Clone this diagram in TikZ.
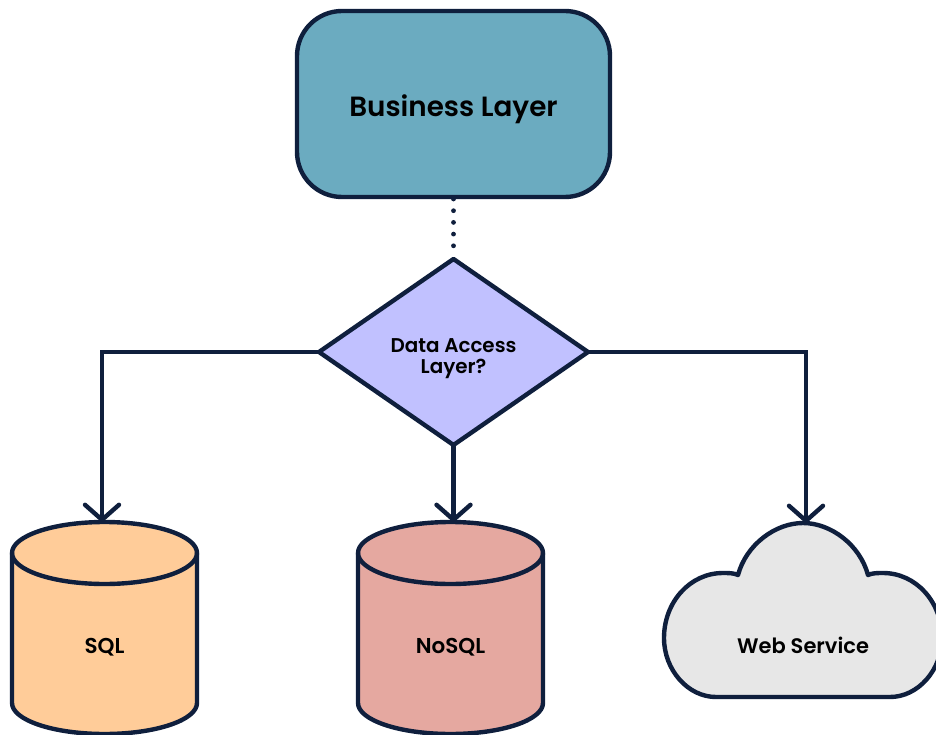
\documentclass[tikz,border=0pt]{standalone}
\usepackage{fontspec}
\newfontfamily\semif{Poppins SemiBold}
\usetikzlibrary{shapes.geometric,arrows.meta}
\definecolor{ink}{HTML}{0F1F3D}
\definecolor{teal}{HTML}{6BABC0}
\definecolor{lav}{HTML}{C1C1FF}
\definecolor{orangey}{HTML}{FFCC99}
\definecolor{rose}{HTML}{E5A8A0}
\definecolor{greyc}{HTML}{E7E7E7}
\tikzset{
  outl/.style={draw=ink,line width=4.4pt,line join=round},
  conn/.style={draw=ink,line width=4.4pt,line join=miter,-{Straight Barb[length=15pt,width=34pt,line width=4.4pt,round]}},
  lbl/.style={inner sep=0pt,text=black,font=\semif\fontsize{21}{21}\selectfont,align=center},
}
\newcommand{\drum}[3]{%
  \path[outl,fill=#2] (#1-92.5,553) -- (#1-92.5,703) arc[start angle=180,end angle=0,x radius=92.5,y radius=31] -- (#1+92.5,553) arc[start angle=0,end angle=-180,x radius=92.5,y radius=31] -- cycle;
  \path[outl] (#1-92.5,553) arc[start angle=180,end angle=0,x radius=92.5,y radius=31];
  \coordinate (#3) at (#1,522);
}
\begin{document}
\begin{tikzpicture}[x=1pt,y=-1pt]
\useasboundingbox (0,0) rectangle (936,735);
\clip (0,0) rectangle (936,735);
\node[outl,fill=teal,rectangle,rounded corners=45pt,minimum width=313pt,minimum height=186pt,inner sep=0pt,outer sep=0pt] (box) at (453.5,104) {};
\node[lbl,font=\semif\fontsize{27.8}{30}\selectfont] (boxt) at (453.5,109) {Business Layer};
\node[outl,fill=lav,diamond,shape aspect=1.446,minimum width=269pt,minimum height=186pt,inner sep=0pt,outer sep=0pt] (dia) at (453.5,352) {};
\node[lbl,font=\semif\fontsize{19.9}{21}\selectfont] (diat) at (453.5,358.5) {Data Access\\Layer?};
\drum{104.5}{orangey}{sqltop}
\drum{450.5}{rose}{nosqltop}
\path[outl,fill=greyc] (738,575) .. controls (746,545) and (775,523) .. (803,523)
  .. controls (831,523) and (860,545) .. (868,575)
  .. controls (872,573) and (878,573) .. (883,573)
  .. controls (916,573) and (942,602) .. (942,638)
  .. controls (942,670) and (918,697) .. (890,697)
  -- (716,697)
  .. controls (688,697) and (664,670) .. (664,638)
  .. controls (664,602) and (690,573) .. (723,573)
  .. controls (728,573) and (734,573) .. (738,575) -- cycle;
\coordinate (cloudtop) at (806,523);
\node[lbl,font=\semif\fontsize{21.5}{21}\selectfont] (sqlt) at (104.5,647) {SQL};
\node[lbl,font=\semif\fontsize{21.5}{21}\selectfont] (nosqlt) at (450.5,647) {NoSQL};
\node[lbl] (webt) at (803,645.5) {Web Service};
\coordinate (dotstart) at (453.5,199);
\draw[ink,line width=4.8pt,line cap=round,dash pattern=on 0pt off 11.7pt,shorten >=10pt] (dotstart) -- (dia.north);
\coordinate (sqlin) at (102,522);
\draw[conn] (dia.west) -| (sqlin);
\draw[conn] (dia.south) -- (nosqltop -| dia.south);
\draw[conn] (dia.east) -| (cloudtop);
\end{tikzpicture}
\end{document}
